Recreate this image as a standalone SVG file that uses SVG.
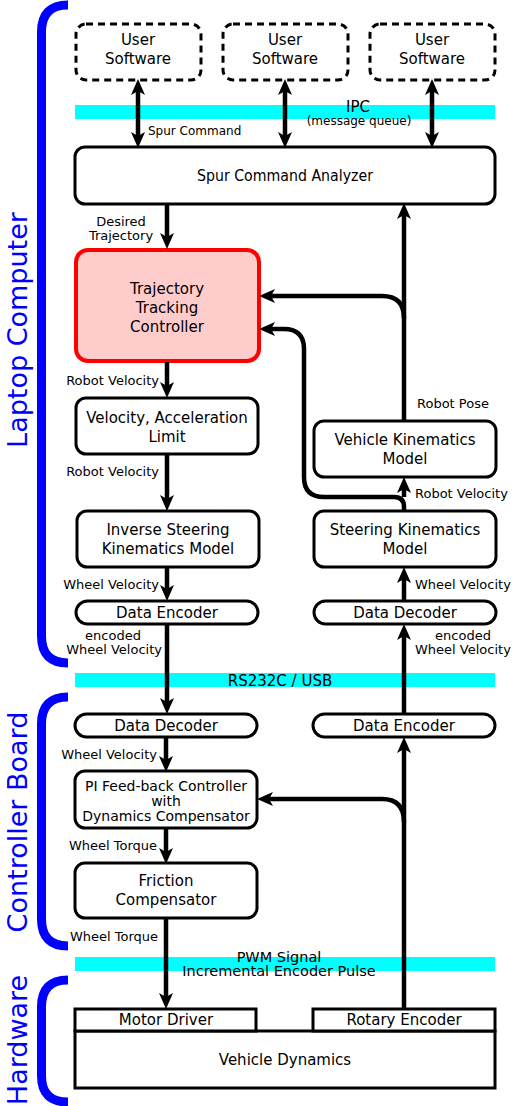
<svg xmlns="http://www.w3.org/2000/svg" width="513" height="1106" viewBox="0 0 513 1106">
<style>
text{font-family:"DejaVu Sans","Noto Sans",sans-serif;fill:#000}
.t{font-size:15px;text-anchor:middle}
.p{font-size:14px;text-anchor:middle}
.s{font-size:13px}
.m{text-anchor:middle}
.e{text-anchor:end}
.grp{font-size:27px;fill:#0000ff;text-anchor:middle}
.box{fill:#fff;stroke:#000;stroke-width:3}
.dash{fill:#fff;stroke:#000;stroke-width:3;stroke-dasharray:7 5}
.br{fill:none;stroke:#0000ff;stroke-width:9}
.band{fill:#00ffff}
.c{fill:none;stroke:#000;stroke-width:4.5}
.a{marker-end:url(#ah)}
.d{marker-end:url(#ah);marker-start:url(#ah)}
</style>
<defs>
<marker id="ah" viewBox="0 -7 16 14" refX="7" refY="0" markerWidth="16" markerHeight="14" markerUnits="userSpaceOnUse" orient="auto-start-reverse">
<path d="M16,0 L0,-7 L4,0 L0,7 Z" fill="#000"/>
</marker>
</defs>

<g id="brackets">
<path class="br" d="M68,5 Q41.5,5 41.5,32 L41.5,636 Q41.5,663 68,663"/>
<path class="br" d="M68,697 Q41.5,697 41.5,724 L41.5,919 Q41.5,946 68,946"/>
<path class="br" d="M68,980 Q41.5,980 41.5,1007 L41.5,1076 Q41.5,1102 68,1102"/>
<text class="grp" transform="translate(27,330) rotate(-90)">Laptop Computer</text>
<text class="grp" transform="translate(27,822) rotate(-90)">Controller Board</text>
<text class="grp" transform="translate(27,1040) rotate(-90)">Hardware</text>
</g>

<g id="bands">
<rect class="band" x="75" y="105" width="420" height="14"/>
<rect class="band" x="75" y="673" width="420" height="14"/>
<rect class="band" x="75" y="957" width="420" height="14"/>
<text class="t" x="358" y="112">IPC</text>
<text class="s m" x="359" y="125" style="font-size:12px">(message queue)</text>
<text class="t" x="280" y="686">RS232C / USB</text>
<text class="t" x="279" y="962" style="font-size:14.5px">PWM Signal</text>
<text class="t" x="279" y="976" style="font-size:14.5px">Incremental Encoder Pulse</text>
</g>

<g id="user1"><rect class="dash" x="76" y="24" width="125" height="56" rx="10"/><text class="t" x="138" y="45">User</text><text class="t" x="138" y="64">Software</text></g>
<g id="user2"><rect class="dash" x="223" y="24" width="125" height="56" rx="10"/><text class="t" x="285" y="45">User</text><text class="t" x="285" y="64">Software</text></g>
<g id="user3"><rect class="dash" x="370" y="24" width="125" height="56" rx="10"/><text class="t" x="432" y="45">User</text><text class="t" x="432" y="64">Software</text></g>

<g id="analyzer"><rect class="box" x="75" y="147" width="420" height="57" rx="10"/><text class="t" x="285" y="181" textLength="176" lengthAdjust="spacingAndGlyphs">Spur Command Analyzer</text></g>

<g id="ttc"><rect x="76" y="250" width="183" height="111" rx="12" fill="#ffcccc" stroke="#ff0000" stroke-width="4"/><text class="t" x="167" y="294">Trajectory</text><text class="t" x="167" y="313">Tracking</text><text class="t" x="167" y="332">Controller</text></g>

<g id="val"><rect class="box" x="76" y="398" width="182" height="56" rx="10"/><text class="t" x="167" y="423">Velocity, Acceleration</text><text class="t" x="167" y="442">Limit</text></g>

<g id="vkm"><rect class="box" x="314" y="421" width="182" height="56" rx="10"/><text class="t" x="405" y="445">Vehicle Kinematics</text><text class="t" x="405" y="464">Model</text></g>

<g id="iskm"><rect class="box" x="77" y="511" width="182" height="56" rx="10"/><text class="t" x="168" y="535">Inverse Steering</text><text class="t" x="168" y="554">Kinematics Model</text></g>

<g id="skm"><rect class="box" x="314" y="511" width="182" height="56" rx="10"/><text class="t" x="405" y="535">Steering Kinematics</text><text class="t" x="405" y="554">Model</text></g>

<g id="enc1"><rect class="box" x="76" y="601" width="182" height="23" rx="11.5"/><text class="t" x="167" y="618">Data Encoder</text></g>
<g id="dec1"><rect class="box" x="314" y="601" width="182" height="23" rx="11.5"/><text class="t" x="405" y="618">Data Decoder</text></g>
<g id="dec2"><rect class="box" x="75" y="714" width="182" height="23" rx="11.5"/><text class="t" x="166" y="731">Data Decoder</text></g>
<g id="enc2"><rect class="box" x="313" y="714" width="182" height="23" rx="11.5"/><text class="t" x="404" y="731">Data Encoder</text></g>

<g id="pi"><rect class="box" x="75" y="771" width="182" height="57" rx="10"/><text class="p" x="166" y="791">PI Feed-back Controller</text><text class="p" x="166" y="806">with</text><text class="p" x="166" y="821">Dynamics Compensator</text></g>

<g id="fric"><rect class="box" x="75" y="863" width="182" height="55" rx="10"/><text class="t" x="166" y="886">Friction</text><text class="t" x="166" y="905">Compensator</text></g>

<g id="hardware">
<rect class="box" x="75" y="1031" width="420" height="57"/>
<rect class="box" x="75" y="1009" width="181" height="22"/>
<rect class="box" x="313" y="1009" width="182" height="22"/>
<text class="t" x="166" y="1025">Motor Driver</text>
<text class="t" x="404" y="1025">Rotary Encoder</text>
<text class="t" x="285" y="1065">Vehicle Dynamics</text>
</g>

<g id="connectors">
<line class="c d" x1="138" y1="88" x2="138" y2="139"/>
<line class="c d" x1="285" y1="88" x2="285" y2="139"/>
<line class="c d" x1="432" y1="88" x2="432" y2="139"/>
<line class="c a" x1="167" y1="205" x2="167" y2="240"/>
<line class="c a" x1="404" y1="421" x2="404" y2="212"/>
<path class="c a" d="M404,318 Q404,296 382,296 L268,296"/>
<path class="c a" d="M404,511 L404,507 Q404,497 394,497 L324,497 Q304,497 304,477 L304,349 Q304,329 284,329 L268,329"/>
<line class="c a" x1="167" y1="362" x2="167" y2="389"/>
<line class="c a" x1="167" y1="455" x2="167" y2="502"/>
<line class="c a" x1="404" y1="497" x2="404" y2="486"/>
<line class="c a" x1="167" y1="568" x2="167" y2="592"/>
<line class="c a" x1="404" y1="601" x2="404" y2="576"/>
<line class="c a" x1="167" y1="625" x2="167" y2="705"/>
<line class="c a" x1="404" y1="714" x2="404" y2="633"/>
<line class="c a" x1="166" y1="738" x2="166" y2="763"/>
<line class="c a" x1="166" y1="829" x2="166" y2="855"/>
<line class="c a" x1="166" y1="919" x2="166" y2="1000"/>
<line class="c a" x1="404" y1="1009" x2="404" y2="746"/>
<path class="c a" d="M404,822 Q404,799 382,799 L266,799"/>
</g>

<g id="labels">
<text class="s" x="148" y="135" style="font-size:12px">Spur Command</text>
<text class="s m" x="121" y="226">Desired</text>
<text class="s m" x="121" y="240">Trajectory</text>
<text class="s e" x="159" y="385">Robot Velocity</text>
<text class="s" x="417" y="408">Robot Pose</text>
<text class="s e" x="159" y="476">Robot Velocity</text>
<text class="s" x="415" y="498">Robot Velocity</text>
<text class="s e" x="159" y="589">Wheel Velocity</text>
<text class="s" x="415" y="589">Wheel Velocity</text>
<text class="s m" x="113" y="640">encoded</text>
<text class="s e" x="162" y="654">Wheel Velocity</text>
<text class="s m" x="463" y="640">encoded</text>
<text class="s" x="415" y="654">Wheel Velocity</text>
<text class="s e" x="157" y="759">Wheel Velocity</text>
<text class="s e" x="157" y="850">Wheel Torque</text>
<text class="s e" x="158" y="941">Wheel Torque</text>
</g>
</svg>
